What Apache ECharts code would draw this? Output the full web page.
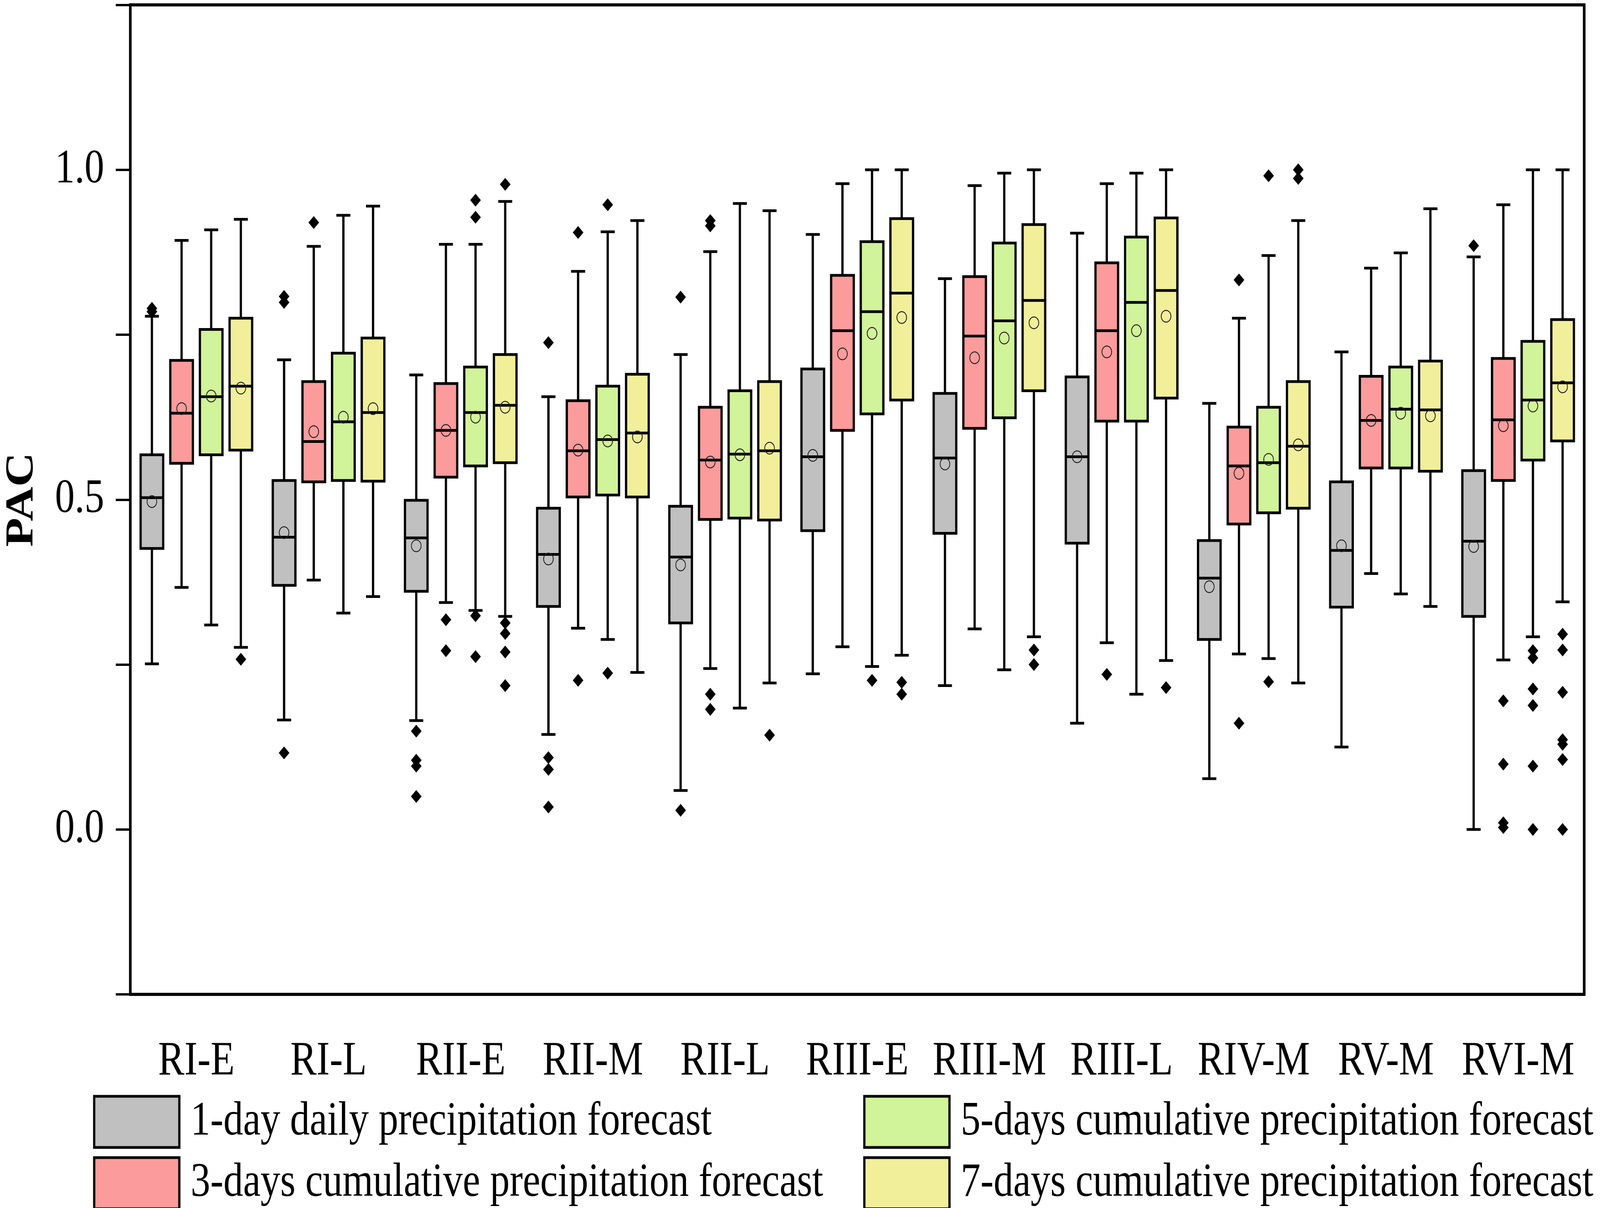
<!DOCTYPE html>
<html><head><meta charset="utf-8">
<script src="https://cdn.jsdelivr.net/npm/echarts@6/dist/echarts.min.js"></script>
<style>html,body{margin:0;padding:0;background:#fff;overflow:hidden}
#c{width:4961px;height:3093px;transform-origin:0 0;position:absolute;left:0;top:0}</style>
</head><body><div id="c"></div>
<script>
const categories = ['RI-E','RI-L','RII-E','RII-M','RII-L','RIII-E','RIII-M','RIII-L','RIV-M','RV-M','RVI-M'];
const seriesNames = ['1-day daily precipitation forecast','3-days cumulative precipitation forecast','5-days cumulative precipitation forecast','7-days cumulative precipitation forecast'];
const seriesColors = ['#c0c0c0','#fc9b9b','#d1f399','#f2ef9b'];
const yTickLabels = [0.0, 0.5, 1.0];

// each box: [lower whisker, Q1, median, Q3, upper whisker]
const day1Box = [
  [0.251,0.426,0.503,0.568,0.778],[0.166,0.370,0.443,0.529,0.712],[0.165,0.361,0.442,0.499,0.689],
  [0.144,0.338,0.417,0.487,0.656],[0.059,0.313,0.413,0.490,0.720],[0.236,0.453,0.565,0.698,0.902],
  [0.218,0.449,0.563,0.661,0.835],[0.161,0.434,0.565,0.686,0.904],[0.077,0.288,0.381,0.438,0.646],
  [0.125,0.337,0.423,0.527,0.724],[0.000,0.323,0.437,0.544,0.868]
];
const day3Box = [
  [0.367,0.555,0.631,0.711,0.893],[0.378,0.527,0.588,0.679,0.884],[0.344,0.534,0.605,0.676,0.887],
  [0.305,0.504,0.574,0.650,0.846],[0.244,0.470,0.560,0.640,0.876],[0.277,0.605,0.756,0.840,0.979],
  [0.304,0.608,0.748,0.838,0.976],[0.283,0.619,0.756,0.859,0.979],[0.266,0.463,0.551,0.610,0.775],
  [0.388,0.548,0.620,0.687,0.851],[0.257,0.529,0.621,0.714,0.947]
];
const day5Box = [
  [0.310,0.568,0.656,0.758,0.909],[0.328,0.529,0.618,0.722,0.931],[0.332,0.551,0.632,0.701,0.887],
  [0.288,0.507,0.591,0.672,0.906],[0.184,0.472,0.569,0.665,0.949],[0.247,0.630,0.785,0.891,1.000],
  [0.242,0.624,0.771,0.889,0.995],[0.205,0.619,0.799,0.898,0.995],[0.259,0.480,0.556,0.640,0.870],
  [0.357,0.548,0.637,0.701,0.874],[0.292,0.560,0.651,0.740,1.000]
];
const day7Box = [
  [0.276,0.575,0.672,0.775,0.925],[0.353,0.528,0.632,0.745,0.945],[0.323,0.556,0.643,0.720,0.952],
  [0.238,0.504,0.601,0.690,0.923],[0.222,0.469,0.574,0.679,0.938],[0.264,0.651,0.813,0.926,1.000],
  [0.292,0.665,0.802,0.917,1.000],[0.256,0.654,0.817,0.927,1.000],[0.222,0.487,0.581,0.679,0.923],
  [0.338,0.543,0.636,0.710,0.941],[0.345,0.589,0.677,0.773,1.000]
];
const day1Mean = [0.497,0.450,0.430,0.410,0.401,0.567,0.554,0.565,0.368,0.430,0.429];
const day3Mean = [0.638,0.603,0.605,0.575,0.557,0.721,0.715,0.724,0.540,0.620,0.612];
const day5Mean = [0.657,0.625,0.625,0.589,0.568,0.752,0.745,0.756,0.561,0.631,0.642];
const day7Mean = [0.669,0.638,0.640,0.595,0.578,0.776,0.768,0.778,0.583,0.627,0.671];

const day1Outliers = [[0.790,0.785],[0.808,0.799,0.116],[0.149,0.105,0.096,0.050],[0.738,0.109,0.091,0.034],
  [0.807,0.029],[],[],[],[],[],[0.885]];
const day3Outliers = [[],[0.920],[0.318,0.271],[0.905,0.226],[0.923,0.915,0.205,0.182],[],[],[0.235],
  [0.833,0.161],[],[0.195,0.099,0.010,0.003]];
const day5Outliers = [[],[],[0.954,0.928,0.324,0.262],[0.947,0.237],[],[0.226],[],[],[0.991,0.224],[],
  [0.271,0.260,0.213,0.188,0.096,0.000]];
const day7Outliers = [[0.258],[],[0.978,0.313,0.297,0.269,0.218],[],[0.143],[0.223,0.205],[0.272,0.250],[0.215],
  [1.000,0.987],[],[0.296,0.272,0.208,0.136,0.129,0.106,0.000]];

const boxes = [day1Box, day3Box, day5Box, day7Box];
const means = [day1Mean, day3Mean, day5Mean, day7Mean];
const outliers = [day1Outliers, day3Outliers, day5Outliers, day7Outliers];

const FONT = "'Liberation Serif','Times New Roman',serif";
const OFFSETS = [-0.3365, -0.1120, 0.1120, 0.3365];   // fraction of band
const BOX_W = 0.171, CAP_W = 0.106;
const LW = 7;

// the page is 4961x3093; fit it into whatever window the browser really has
const el = document.getElementById('c');
el.style.transform = 'scale(' + (window.innerWidth / 4961) + ',' + (window.innerHeight / 3093) + ')';

function boxRender(k) {
  return function (params, api) {
    const ci = api.value(0);
    const band = api.size([1, 0])[0];
    const c = api.coord([ci, 0])[0] + OFFSETS[k] * band;
    const w = BOX_W * band, cw = CAP_W * band;
    const y = i => api.coord([ci, api.value(i)])[1];
    const yl = y(1), yq1 = y(2), ym = y(3), yq3 = y(4), yh = y(5), ymean = y(6);
    const ls = { stroke: '#000', lineWidth: LW };
    return { type: 'group', children: [
      { type: 'line', shape: { x1: c, y1: yh, x2: c, y2: yl }, style: ls },
      { type: 'line', shape: { x1: c - cw / 2, y1: yh, x2: c + cw / 2, y2: yh }, style: ls },
      { type: 'line', shape: { x1: c - cw / 2, y1: yl, x2: c + cw / 2, y2: yl }, style: ls },
      { type: 'rect', shape: { x: c - w / 2, y: yq3, width: w, height: yq1 - yq3 },
        style: { fill: seriesColors[k], stroke: '#000', lineWidth: LW } },
      { type: 'line', shape: { x1: c - w / 2, y1: ym, x2: c + w / 2, y2: ym }, style: ls },
      { type: 'circle', shape: { cx: c, cy: ymean, r: 15 }, style: { fill: 'none', stroke: '#222', lineWidth: 2.5 } }
    ]};
  };
}
function outlierRender(k) {
  return function (params, api) {
    const ci = api.value(0);
    const band = api.size([1, 0])[0];
    const p = api.coord([ci, api.value(1)]);
    const c = p[0] + OFFSETS[k] * band, yy = p[1], r = 16.5;
    return { type: 'polygon', shape: { points: [[c, yy - r], [c + r, yy], [c, yy + r], [c - r, yy]] },
      style: { fill: '#000' } };
  };
}

const series = [];
for (let k = 0; k < 4; k++) {
  series.push({
    type: 'custom', name: seriesNames[k], renderItem: boxRender(k),
    itemStyle: { color: seriesColors[k], borderColor: '#000', borderWidth: LW },
    encode: { x: 0, y: [1, 2, 3, 4, 5, 6] },
    data: categories.map((c, i) => [i].concat(boxes[k][i]).concat([means[k][i]])),
    z: 2
  });
}
for (let k = 0; k < 4; k++) {
  const pts = [];
  outliers[k].forEach((list, i) => list.forEach(v => pts.push([i, v])));
  series.push({
    type: 'custom', name: seriesNames[k], renderItem: outlierRender(k),
    itemStyle: { color: seriesColors[k] },
    encode: { x: 0, y: 1 }, data: pts, z: 3
  });
}

const FS = 122;
const legendText = { fontFamily: FONT, fontSize: FS, lineHeight: 131, color: '#000', padding: [0, 0, 0, 30] };
const legendItem = k => ({ name: seriesNames[k], icon: 'rect',
  itemStyle: { color: seriesColors[k], borderColor: '#000', borderWidth: LW } });
const legendBase = { orient: 'vertical', top: 2803.5, height: 300, padding: 0,
  itemWidth: 264, itemHeight: 131, itemGap: 19, selectedMode: false, textStyle: legendText };

const chart = echarts.init(el, null, { renderer: 'canvas', width: 4961, height: 3093 });
chart.setOption({
  animation: false,
  backgroundColor: '#fff',
  grid: { left: 384, right: 49, top: 12.5, bottom: 547, show: true, borderColor: '#000',
          borderWidth: 8, backgroundColor: 'transparent', containLabel: false },
  xAxis: {
    type: 'category', data: categories, boundaryGap: true,
    axisLine: { onZero: false, lineStyle: { color: '#000', width: 8 } },
    axisTick: { alignWithLabel: true, length: 45, lineStyle: { color: '#000', width: 6 } },
    axisLabel: { interval: 0, margin: 112, fontFamily: FONT, fontSize: FS, color: '#000' },
    splitLine: { show: false }
  },
  yAxis: {
    type: 'value', min: -0.25, max: 1.25, interval: 0.25,
    axisLine: { show: true, lineStyle: { color: '#000', width: 8 } },
    axisTick: { show: true, length: 45, lineStyle: { color: '#000', width: 6 } },
    axisLabel: { margin: 81, fontFamily: FONT, fontSize: FS, color: '#000',
      formatter: v => yTickLabels.some(t => Math.abs(t - v) < 1e-6) ? v.toFixed(1) : '' },
    splitLine: { show: false },
    name: 'PAC', nameLocation: 'middle', nameGap: 274,
    nameTextStyle: { fontFamily: FONT, fontSize: FS, fontWeight: 'bold', color: '#000' }
  },
  legend: [
    Object.assign({}, legendBase, { left: 288.5, data: [legendItem(0), legendItem(1)] }),
    Object.assign({}, legendBase, { left: 2676.5, data: [legendItem(2), legendItem(3)] })
  ],
  series: series
});
</script></body></html>
